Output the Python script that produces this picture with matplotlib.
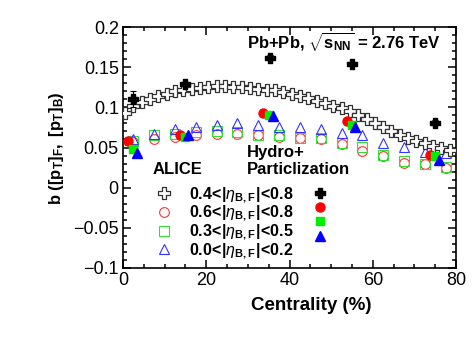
import matplotlib
matplotlib.use("Agg")
import matplotlib.pyplot as plt
import numpy as np
from matplotlib.path import Path
from matplotlib.ticker import MultipleLocator

plt.rcParams['font.family'] = ['Liberation Sans', 'DejaVu Sans']
plt.rcParams['mathtext.fontset'] = 'custom'
plt.rcParams['mathtext.rm'] = 'Liberation Sans'
plt.rcParams['mathtext.it'] = 'Liberation Sans:italic'
plt.rcParams['mathtext.bf'] = 'Liberation Sans:bold'

# ALICE 0.4<|eta|<0.8 (fine bins)
cent_fine = np.arange(0.5, 80, 2.0)
b_04_08 = [0.093, 0.102, 0.107, 0.110, 0.114, 0.117, 0.120, 0.122, 0.123, 0.124,
           0.125, 0.126, 0.126, 0.125, 0.125, 0.124, 0.123, 0.122, 0.121, 0.119,
           0.117, 0.114, 0.111, 0.108, 0.105, 0.102, 0.099, 0.095, 0.090, 0.085,
           0.080, 0.076, 0.071, 0.066, 0.062, 0.058, 0.055, 0.052, 0.050, 0.047]

# ALICE 5% bins
cent = np.arange(2.5, 80, 5.0)
b_06_08 = [0.057, 0.060, 0.063, 0.065, 0.067, 0.067, 0.065, 0.063, 0.062, 0.060,
           0.054, 0.046, 0.039, 0.031, 0.030, 0.024]
b_03_05 = [0.058, 0.065, 0.067, 0.069, 0.070, 0.069, 0.066, 0.065, 0.062, 0.062,
           0.056, 0.051, 0.041, 0.033, 0.030, 0.026]
b_00_02 = [0.060, 0.067, 0.073, 0.076, 0.078, 0.080, 0.078, 0.076, 0.076, 0.073,
           0.068, 0.066, 0.055, 0.051, 0.045, 0.043]

# Hydro+Particlization
hx_04_08 = [2.5, 15.0, 35.2, 55.0, 75.0]
hy_04_08 = [0.110, 0.129, 0.162, 0.154, 0.081]
he_04_08 = [0.010, 0.003, 0.003, 0.003, 0.003]
hx_06_08 = [1.3, 13.7, 33.7, 53.8, 73.8]
hy_06_08 = [0.058, 0.066, 0.093, 0.083, 0.041]
he_06_08 = [0.005, 0.002, 0.002, 0.002, 0.002]
hx_03_05 = [2.5, 14.9, 35.0, 55.0, 75.0]
hy_03_05 = [0.048, 0.063, 0.090, 0.078, 0.040]
hx_00_02 = [3.3, 15.7, 36.0, 55.8, 75.8]
hy_00_02 = [0.043, 0.066, 0.089, 0.076, 0.035]

labels = [r"$\mathbf{0.4\!<\!|}\eta_{\mathbf{B,F}}\mathbf{|\!<\!0.8}$",
          r"$\mathbf{0.6\!<\!|}\eta_{\mathbf{B,F}}\mathbf{|\!<\!0.8}$",
          r"$\mathbf{0.3\!<\!|}\eta_{\mathbf{B,F}}\mathbf{|\!<\!0.5}$",
          r"$\mathbf{0.0\!<\!|}\eta_{\mathbf{B,F}}\mathbf{|\!<\!0.2}$"]

a = 0.32
cross = Path([(-a, 1), (a, 1), (a, a), (1, a), (1, -a), (a, -a), (a, -1), (-a, -1),
              (-a, -a), (-1, -a), (-1, a), (-a, a), (-a, 1)], closed=True)

W, H = 473, 355
fig = plt.figure(figsize=(W / 100, H / 100), dpi=100)
ax = fig.add_axes([123 / W, 1 - 268 / H, (456 - 123) / W, (268 - 27) / H])

h1, = ax.plot(cent_fine, b_04_08, ls='none', marker=cross, ms=8, mfc='white',
              mec='#333333', mew=0.9, zorder=3)
h2, = ax.plot(cent, b_06_08, ls='none', marker='o', ms=7, mfc='none', mec='#ff3333',
              mew=0.8, zorder=2)
h3, = ax.plot(cent, b_03_05, ls='none', marker='s', ms=6.5, mfc='none', mec='#33dd33',
              mew=0.8, zorder=2)
h4, = ax.plot(cent, b_00_02, ls='none', marker='^', ms=7.5, mfc='none', mec='#3333ff',
              mew=0.8, zorder=2)

ax.errorbar(hx_04_08, hy_04_08, yerr=he_04_08, ls='none', color='black', lw=0.8,
            capsize=2, capthick=0.8, zorder=5)
g1, = ax.plot(hx_04_08, hy_04_08, ls='none', marker=cross, ms=7, color='black', zorder=5)
ax.errorbar(hx_06_08, hy_06_08, yerr=he_06_08, ls='none', color='red', lw=0.8,
            capsize=2, capthick=0.8, zorder=5)
g2, = ax.plot(hx_06_08, hy_06_08, ls='none', marker='o', ms=6.5, color='#ff0000', zorder=5)
g3, = ax.plot(hx_03_05, hy_03_05, ls='none', marker='s', ms=6, color='#00ee00', zorder=6)
g4, = ax.plot(hx_00_02, hy_00_02, ls='none', marker='^', ms=7, color='#0000ff', zorder=7)

ax.set_xlim(0, 80)
ax.set_ylim(-0.1, 0.2)
ax.xaxis.set_major_locator(MultipleLocator(20))
ax.xaxis.set_minor_locator(MultipleLocator(5))
ax.yaxis.set_major_locator(MultipleLocator(0.05))
ax.yaxis.set_minor_locator(MultipleLocator(0.01))
ax.set_yticks([-0.1, -0.05, 0, 0.05, 0.1, 0.15, 0.2])
ax.set_yticklabels(['\u22120.1', '\u22120.05', '0', '0.05', '0.1', '0.15', '0.2'])
ax.tick_params(which='both', direction='in', top=True, right=True, width=1.1,
               labelsize=13, pad=3)
ax.tick_params(which='major', length=6)
ax.tick_params(which='minor', length=3)
for s in ax.spines.values():
    s.set_linewidth(1.2)

leg = ax.legend([h1, h2, h3, h4, g1, g2, g3, g4], labels + [''] * 4, ncol=2,
                loc='upper left', bbox_to_anchor=(0.10, 0.344), frameon=False,
                prop={'size': 11.5, 'weight': 'bold'}, handlelength=1.0,
                handletextpad=1.05, labelspacing=-0.05, columnspacing=1.15,
                borderpad=0, borderaxespad=0)

ax.text((153 - 123) / 333, 1 - (169 - 27) / 241, 'ALICE', transform=ax.transAxes,
        fontsize=12, fontweight='bold', va='center', ha='left')
ax.text((247 - 123) / 333, 1 - (152 - 27) / 241, 'Hydro+', transform=ax.transAxes,
        fontsize=12, fontweight='bold', va='center', ha='left')
ax.text((247 - 123) / 333, 1 - (170 - 27) / 241, 'Particlization', transform=ax.transAxes,
        fontsize=12, fontweight='bold', va='center', ha='left')
ax.text((247 - 123) / 333, 1 - (42 - 27) / 241,
        r'Pb+Pb, $\sqrt{\mathbf{s}_{\mathbf{NN}}}$ = 2.76 TeV', transform=ax.transAxes,
        fontsize=12, fontweight='bold', va='center', ha='left')

fig.text(311 / W, 1 - 305 / H, 'Centrality (%)', fontsize=13.5, fontweight='bold',
         ha='center', va='center')
fig.text(57 / W, 1 - 148 / H, r'$\mathbf{b\ ([p}_{\mathbf{T}}\mathbf{]}_{\mathbf{F}}\mathbf{,\ [p}_{\mathbf{T}}\mathbf{]}_{\mathbf{B}}\mathbf{)}$',
         fontsize=12, rotation=90, ha='center', va='center')

fig.savefig('out.png', dpi=100)
